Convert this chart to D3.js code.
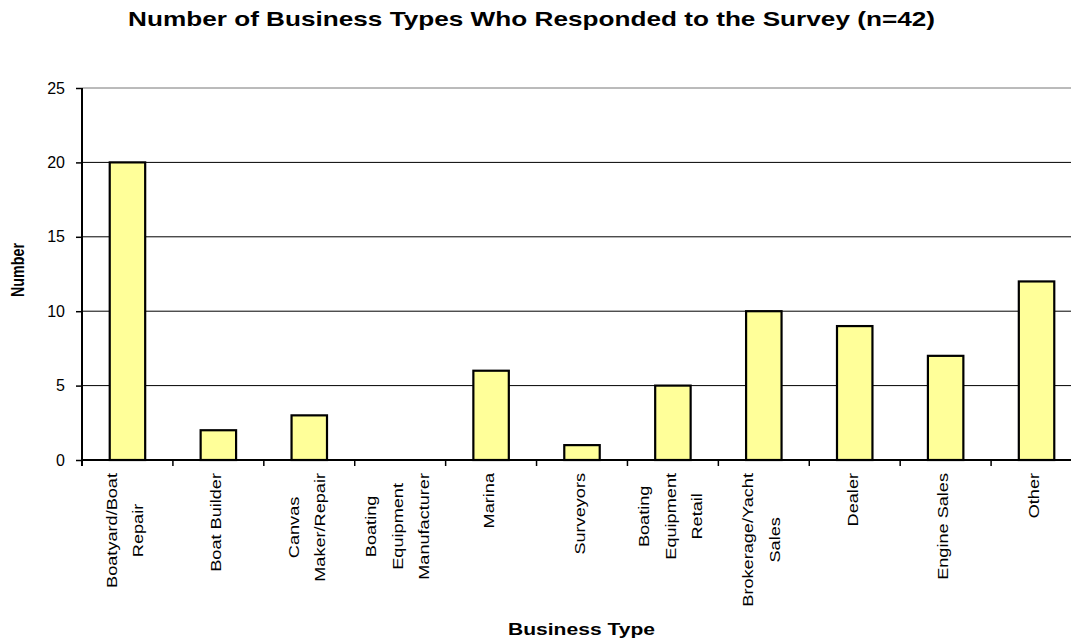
<!DOCTYPE html>
<html>
<head>
<meta charset="utf-8">
<script src="https://cdn.jsdelivr.net/npm/d3@7"></script>
<style>
  html, body { margin: 0; padding: 0; background: #fff; }
  svg { display: block; font-family: Arial, "Liberation Sans", sans-serif; }
</style>
</head>
<body>
<svg id="chart" width="1071" height="643"></svg>
<script>
// Survey responses by business type ("\n" marks a wrapped label line)
const categories = [
  "Boatyard/Boat\nRepair",
  "Boat Builder",
  "Canvas\nMaker/Repair",
  "Boating\nEquipment\nManufacturer",
  "Marina",
  "Surveyors",
  "Boating\nEquipment\nRetail",
  "Brokerage/Yacht\nSales",
  "Dealer",
  "Engine Sales",
  "Other"
];
const counts = [20, 2, 3, 0, 6, 1, 5, 10, 9, 7, 12];
const yTicks = [0, 5, 10, 15, 20, 25];

const chartTitle = "Number of Business Types Who Responded to the Survey (n=42)";
const xTitle = "Business Type";
const yTitle = "Number";

const svg = d3.select("#chart");

// Plot area (the right edge of the frame runs past the window)
const plot = { left: 82, right: 1082, top: 88, bottom: 460 };

const x = d3.scaleBand()
  .domain(categories)
  .range([plot.left, plot.right])
  .paddingInner(0.61)
  .paddingOuter(0.305);

const y = d3.scaleLinear()
  .domain([0, 25])
  .range([plot.bottom, plot.top]);

// Horizontal gridlines
svg.append("g")
  .selectAll("line")
  .data(yTicks.filter(v => v > 0))
  .join("line")
  .attr("x1", plot.left)
  .attr("x2", plot.right)
  .attr("y1", d => y(d))
  .attr("y2", d => y(d))
  .attr("stroke", d => d === 25 ? "#777" : "#000")
  .attr("stroke-width", 1);

// Bars
svg.append("g")
  .selectAll("rect")
  .data(categories.map((c, i) => ({ c, v: counts[i] })))
  .join("rect")
  .filter(d => d.v > 0)
  .attr("x", d => x(d.c))
  .attr("width", x.bandwidth())
  .attr("y", d => y(d.v))
  .attr("height", d => y(0) - y(d.v))
  .attr("fill", "#FFFF99")
  .attr("stroke", "#000")
  .attr("stroke-width", 2.2);

// Y axis
const yAxis = svg.append("g")
  .attr("transform", `translate(${plot.left},0)`)
  .attr("font-size", 16)
  .attr("font-family", "Arial, 'Liberation Sans', sans-serif")
  .call(d3.axisLeft(y).tickValues(yTicks).tickSize(6).tickPadding(11).tickSizeOuter(0));
yAxis.attr("font-size", 16).attr("font-family", "Arial, 'Liberation Sans', sans-serif");
yAxis.select(".domain").remove();
yAxis.selectAll(".tick line").attr("stroke", "#000").attr("stroke-width", 1.5);
yAxis.selectAll(".tick text").attr("fill", "#000").style("font-size", "16px");
svg.append("line")
  .attr("x1", plot.left).attr("x2", plot.left)
  .attr("y1", plot.top).attr("y2", plot.bottom + 6)
  .attr("stroke", "#000").attr("stroke-width", 2);

// X axis baseline and ticks at category boundaries
svg.append("line")
  .attr("x1", plot.left).attr("x2", plot.right)
  .attr("y1", plot.bottom).attr("y2", plot.bottom)
  .attr("stroke", "#000").attr("stroke-width", 2);

const boundaries = d3.range(categories.length + 1).map(i => plot.left + i * x.step());
svg.append("g")
  .selectAll("line")
  .data(boundaries)
  .join("line")
  .attr("x1", d => d).attr("x2", d => d)
  .attr("y1", plot.bottom).attr("y2", plot.bottom + 6)
  .attr("stroke", "#000").attr("stroke-width", 1.5);

// Rotated, wrapped category labels (stretched along the reading direction)
const labelTop = 473;
const lineGap = 26.5;
const labelStretch = 1.17;
categories.forEach(cat => {
  const lines = cat.split("\n");
  const cx = x(cat) + x.bandwidth() / 2;
  const g = svg.append("g")
    .attr("transform", `translate(${cx},${labelTop}) rotate(-90) scale(${labelStretch},1)`);
  const texts = lines.map((ln, i) => g.append("text")
    .style("font-size", "15.5px")
    .attr("fill", "#000")
    .attr("text-anchor", "middle")
    .attr("y", 2.8 + (i - (lines.length - 1) / 2) * lineGap)
    .text(ln));
  const maxLen = d3.max(texts, t => t.node().getComputedTextLength());
  texts.forEach(t => t.attr("x", -maxLen / 2));
});

// Text stretched horizontally to a given overall width, centred on cx
function stretchedText(str, cx, baseY, size, width, rotate) {
  const g = svg.append("g");
  const t = g.append("text")
    .attr("text-anchor", "middle")
    .attr("font-weight", "bold")
    .style("font-size", size + "px")
    .text(str);
  const s = width / t.node().getComputedTextLength();
  g.attr("transform", `translate(${cx},${baseY})${rotate ? " rotate(-90)" : ""} scale(${s},1)`);
  return g;
}

stretchedText(chartTitle, 531.5, 26, 21, 807, false);
stretchedText(xTitle, 581.5, 635, 17, 147, false);
stretchedText(yTitle, 24, 270, 18, 54, true);
</script>
</body>
</html>
